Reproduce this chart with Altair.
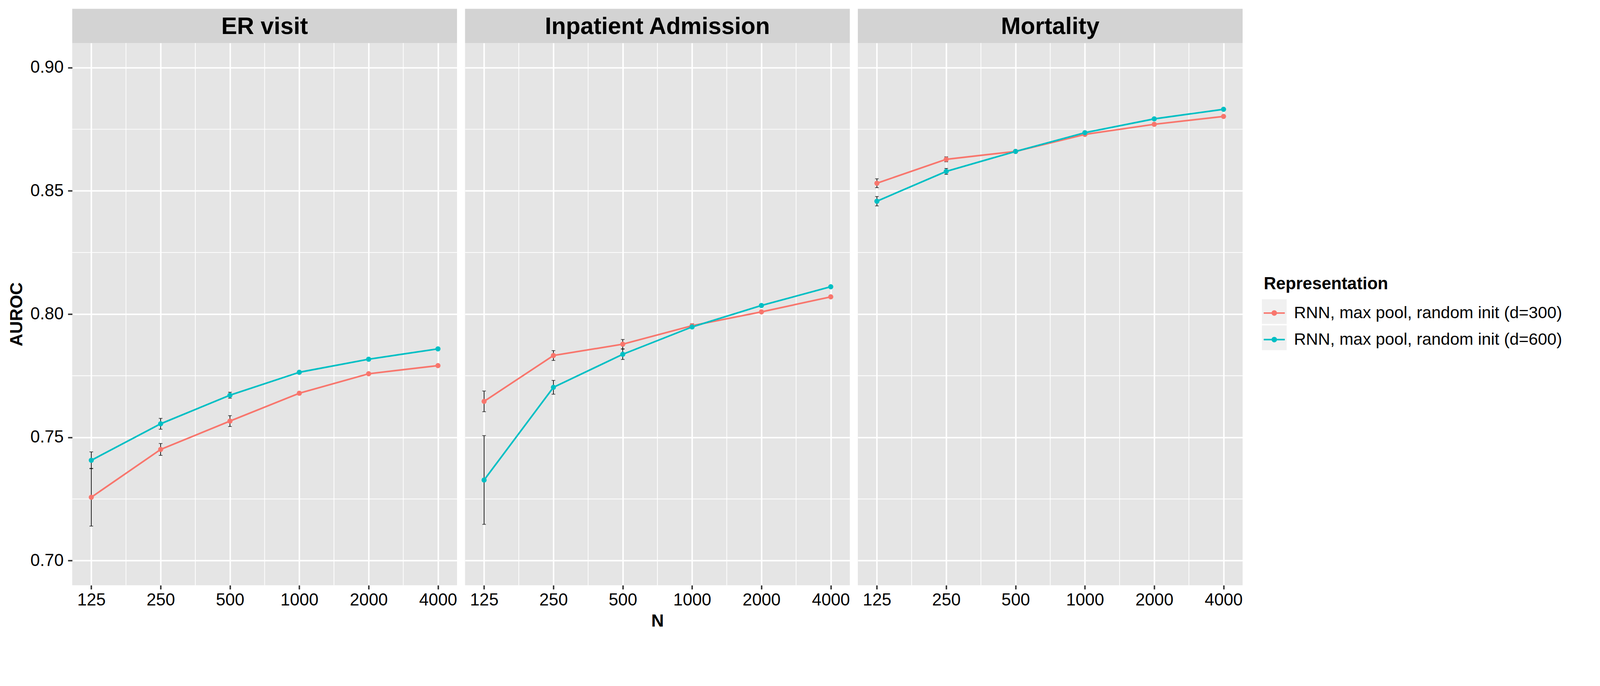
import altair as alt
import pandas as pd

# ---------------- data ----------------
N_VALUES = [125, 250, 500, 1000, 2000, 4000]
OUTCOMES = ["ER visit", "Inpatient Admission", "Mortality"]
REPS = ["RNN, max pool, random init (d=300)", "RNN, max pool, random init (d=600)"]
KEYS = ["key 1", "key 2"]

er_d300 = [0.7257, 0.7451, 0.7566, 0.7679, 0.7758, 0.7791]
er_d300_err = [0.0117, 0.0024, 0.0022, 0.0004, 0.0003, 0.0003]
er_d600 = [0.7407, 0.7555, 0.7671, 0.7764, 0.7817, 0.7859]
er_d600_err = [0.0034, 0.0022, 0.0012, 0.0005, 0.0004, 0.0004]

ip_d300 = [0.7646, 0.7832, 0.7878, 0.7953, 0.8009, 0.8070]
ip_d300_err = [0.0042, 0.0020, 0.0019, 0.0008, 0.0004, 0.0004]
ip_d600 = [0.7327, 0.7703, 0.7837, 0.7948, 0.8035, 0.8111]
ip_d600_err = [0.0180, 0.0028, 0.0021, 0.0005, 0.0004, 0.0004]

mo_d300 = [0.8531, 0.8628, 0.8660, 0.8729, 0.8770, 0.8802]
mo_d300_err = [0.0018, 0.0010, 0.0005, 0.0004, 0.0003, 0.0003]
mo_d600 = [0.8458, 0.8579, 0.8660, 0.8736, 0.8792, 0.8831]
mo_d600_err = [0.0019, 0.0012, 0.0005, 0.0004, 0.0003, 0.0003]

Y_MAJOR = [0.70, 0.75, 0.80, 0.85, 0.90]
Y_MINOR = [0.725, 0.775, 0.825, 0.875]
X_MINOR = [176.8, 353.6, 707.1, 1414.2, 2828.4]

series = {
    ("ER visit", 0): (er_d300, er_d300_err),
    ("ER visit", 1): (er_d600, er_d600_err),
    ("Inpatient Admission", 0): (ip_d300, ip_d300_err),
    ("Inpatient Admission", 1): (ip_d600, ip_d600_err),
    ("Mortality", 0): (mo_d300, mo_d300_err),
    ("Mortality", 1): (mo_d600, mo_d600_err),
}

rows = []
for (outcome, k), (vals, errs) in series.items():
    for n, v, e in zip(N_VALUES, vals, errs):
        rows.append({"outcome": outcome, "rep": REPS[k], "key": KEYS[k], "N": n,
                     "auroc": v, "lo": v - e, "hi": v + e})
df = pd.DataFrame(rows)
xminor_df = pd.DataFrame({"N": X_MINOR})
yminor_df = pd.DataFrame({"auroc": Y_MINOR})

# ---------------- styling ----------------
FONT = "Liberation Sans"
PANEL_BG = "#E5E5E5"
STRIP_BG = "#D3D3D3"
KEY_BG = "#F0F0F0"
COLORS = ["#F8766D", "#00BFC4"]
W, H = 1058, 1490
STRIP_H = 94
TICK_FS = 47

xscale = alt.Scale(type="log", base=2, domain=[103.3, 4840], nice=False)
yscale = alt.Scale(domain=[0.69, 0.91], nice=False, zero=False)
cscale = alt.Scale(domain=REPS, range=COLORS)

# legend glyph: horizontal line segment with a dot (bezier circle)
LEGEND_PATH = ("M-1,-0.07L1,-0.07L1,0.07L-1,0.07Z "
               "M0.26,0C0.26,0.1436,0.1436,0.26,0,0.26C-0.1436,0.26,-0.26,0.1436,-0.26,0"
               "C-0.26,-0.1436,-0.1436,-0.26,0,-0.26C0.1436,-0.26,0.26,-0.1436,0.26,0Z")

color_legend = alt.Legend(
    title="Representation", orient="none", legendX=3276, legendY=640,
    titleFont=FONT, titleFontSize=47, titleFontWeight="bold", titleColor="black",
    titlePadding=26, titleLimit=3000, labelFont=FONT, labelFontSize=46,
    labelColor="black", labelLimit=3000, labelOffset=25, symbolType=LEGEND_PATH,
    symbolSize=3364, symbolStrokeWidth=0, rowPadding=21, padding=0, zindex=2,
)
key_legend = alt.Legend(
    title=None, orient="none", legendX=3271, legendY=704,
    labelFontSize=10, labelExpr="''", labelLimit=10,
    symbolType="square", symbolSize=4624, symbolFillColor=KEY_BG,
    symbolStrokeWidth=0, symbolOpacity=1, rowPadding=4, padding=0, zindex=1,
)


def panel(i, name):
    base = alt.Chart(df).transform_filter(alt.datum.outcome == name)
    xn = alt.X("N:Q", scale=xscale)

    # minor gridlines
    vminor = alt.Chart(xminor_df).mark_rule(color="white", strokeWidth=2).encode(x=xn)
    hminor = alt.Chart(yminor_df).mark_rule(color="white", strokeWidth=2).encode(
        y=alt.Y("auroc:Q", scale=yscale))

    # invisible marks that give the grey legend-key backgrounds
    keys = base.mark_point(filled=True, color=KEY_BG, size=0).encode(
        x=xn, y=alt.Y("auroc:Q", scale=yscale),
        shape=alt.Shape("key:N", scale=alt.Scale(domain=KEYS, range=["square", "square"]),
                        legend=key_legend),
    )

    strip_df = pd.DataFrame({"outcome": [name]})
    strip = alt.Chart(strip_df).mark_rect(color=STRIP_BG).encode(
        x=alt.value(0), x2=alt.value(W), y=alt.value(-STRIP_H), y2=alt.value(0))
    strip_text = alt.Chart(strip_df).mark_text(
        font=FONT, fontSize=65, fontWeight="bold", color="black", baseline="middle"
    ).encode(text="outcome:N", x=alt.value(W / 2), y=alt.value(-STRIP_H / 2 + 2))

    err = base.mark_rule(color="black", strokeWidth=2).encode(
        x=xn, y=alt.Y("lo:Q", scale=yscale), y2="hi:Q")
    cap_lo = base.mark_tick(orient="horizontal", size=10, thickness=2, color="black").encode(
        x=xn, y=alt.Y("lo:Q", scale=yscale))
    cap_hi = base.mark_tick(orient="horizontal", size=10, thickness=2, color="black").encode(
        x=xn, y=alt.Y("hi:Q", scale=yscale))

    line = base.mark_line(strokeWidth=4.5).encode(
        x=xn, y=alt.Y("auroc:Q", scale=yscale),
        color=alt.Color("rep:N", scale=cscale),
        detail="rep:N")

    x_axis = alt.Axis(
        orient="bottom", values=N_VALUES, format="d", title="N" if i == 1 else None,
        labelFont=FONT, labelFontSize=TICK_FS, labelColor="black", labelPadding=7,
        labelFlush=False, labelOverlap=False, tickSize=11, tickWidth=4,
        tickColor="#333333", domain=False, grid=True, gridColor="white",
        gridWidth=4, gridOpacity=1, titleFont=FONT, titleFontSize=48,
        titleFontWeight="bold", titleColor="black", titlePadding=11)
    if i == 0:
        y_axis = alt.Axis(
            orient="left", values=Y_MAJOR, format=".2f", title="AUROC",
            labelFont=FONT, labelFontSize=TICK_FS, labelColor="black", labelPadding=12,
            tickSize=12, tickWidth=4, tickColor="#333333", domain=False,
            grid=True, gridColor="white", gridWidth=4, gridOpacity=1, titleFont=FONT,
            titleFontSize=48, titleFontWeight="bold", titleColor="black",
            titlePadding=12)
    else:
        y_axis = alt.Axis(orient="left", values=Y_MAJOR, labels=False, ticks=False,
                          domain=False, title=None, grid=True, gridColor="white",
                          gridWidth=4, gridOpacity=1)

    pts = base.mark_point(filled=True, size=200, opacity=1).encode(
        x=alt.X("N:Q", scale=xscale, axis=x_axis),
        y=alt.Y("auroc:Q", scale=yscale, axis=y_axis),
        color=alt.Color("rep:N", scale=cscale, legend=color_legend),
    )

    return alt.layer(vminor, hminor, keys, strip, strip_text, err, cap_lo, cap_hi,
                     line, pts).properties(width=W, height=H)


chart = alt.hconcat(*[panel(i, o) for i, o in enumerate(OUTCOMES)], spacing=22,
                    bounds="flush").properties(
    padding={"left": 14, "top": -46, "right": 95, "bottom": 0}
).configure(font=FONT).configure_view(fill=PANEL_BG, stroke=None)

chart.save("out.html", embed_options={"renderer": "svg", "actions": False})
